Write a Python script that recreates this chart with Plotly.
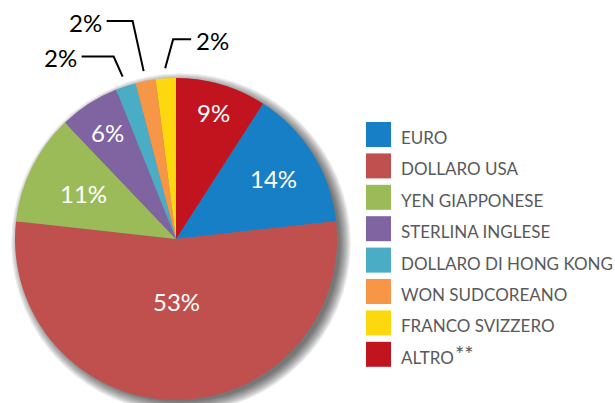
import math
import plotly.graph_objects as go

# ---------------------------------------------------------
# DATA
# ---------------------------------------------------------

labels = [
    "EURO",
    "DOLLARO USA",
    "YEN GIAPPONESE",
    "STERLINA INGLESE",
    "DOLLARO DI HONG KONG",
    "WON SUDCOREANO",
    "FRANCO SVIZZERO",
    "ALTRO",
]
values = [14, 53, 11, 6, 2, 2, 2, 9]
colors = ["#177fc6", "#c0504d", "#9bbb59", "#8064a2",
          "#4bacc6", "#f79646", "#fdd80e", "#c1141f"]

# ---------------------------------------------------------
# LAYOUT SETTINGS (pixels)
# ---------------------------------------------------------

W, H = 615, 403
cx, cy, R = 176, 239, 161
FONT = "Lato"

# where each percentage sits: fraction of the radius for inside labels,
# or (elbow dx, elbow dy, horizontal run) for the leader-line labels
inside_r = {
    "EURO": 0.71,
    "DOLLARO USA": 0.39,
    "YEN GIAPPONESE": 0.64,
    "STERLINA INGLESE": 0.79,
    "ALTRO": 0.82,
}
leaders = {
    "DOLLARO DI HONG KONG": (-9, -20, -32),
    "WON SUDCOREANO": (-11, -50, -26),
    "FRANCO SVIZZERO": (8, -29, 18),
}


def paper(x, y):
    return x / W, 1 - y / H


total = sum(values)
rotation = values[-1] / total * 360  # ALTRO ends at 12 o'clock, EURO starts after it

fig = go.Figure()

# soft drop shadow behind the pie, mostly to the right
shapes = []
for k in range(10):
    r = R - 2 + k * 1.2
    x0, y1 = paper(cx + 5 - r, cy + 4 - r)
    x1, y0 = paper(cx + 5 + r, cy + 4 + r)
    shapes.append(dict(type="circle", xref="paper", yref="paper",
                       x0=x0, x1=x1, y0=y0, y1=y1, layer="below",
                       fillcolor="rgba(0,0,0,0.07)", line_width=0))

fig.add_trace(go.Pie(
    labels=labels,
    values=values,
    sort=False,
    direction="clockwise",
    rotation=rotation,
    marker=dict(colors=colors, line=dict(width=0)),
    textinfo="none",
    domain=dict(x=[(cx - R) / W, (cx + R) / W],
                y=[1 - (cy + R) / H, 1 - (cy - R) / H]),
    showlegend=False,
    hoverinfo="label+value",
))

# ---------------------------------------------------------
# PERCENT LABELS
# ---------------------------------------------------------

annotations = []
cum = 0
for lab, v in zip(labels, values):
    theta = math.radians(rotation + (cum + v / 2) / total * 360)
    cum += v
    if lab in inside_r:
        rr = R * inside_r[lab]
        tx, ty = paper(cx + rr * math.sin(theta), cy - rr * math.cos(theta))
        annotations.append(dict(
            x=tx, y=ty, xref="paper", yref="paper",
            text="%d%%" % v, showarrow=False,
            xanchor="center", yanchor="middle",
            font=dict(family=FONT, size=24, color="white"),
        ))
    else:
        ex = cx + (R + 10) * math.sin(theta)
        ey = cy - (R + 10) * math.cos(theta)
        dx, dy, run = leaders[lab]
        bx, by = ex + dx, ey + dy
        hx = bx + run
        p = [paper(ex, ey), paper(bx, by), paper(hx, by)]
        path = "M{},{} L{},{} L{},{}".format(p[0][0], p[0][1], p[1][0], p[1][1],
                                             p[2][0], p[2][1])
        shapes.append(dict(type="path", xref="paper", yref="paper", path=path,
                           line=dict(color="black", width=2)))
        tx, ty = paper(hx + (3 if run > 0 else -3), by + 1)
        annotations.append(dict(
            x=tx, y=ty, xref="paper", yref="paper",
            text="%d%%" % v, showarrow=False,
            xanchor="left" if run > 0 else "right", yanchor="middle",
            font=dict(family=FONT, size=24, color="black"),
        ))

# ---------------------------------------------------------
# LEGEND
# ---------------------------------------------------------

lx, ly, sw, pitch = 366, 122, 25, 31.4
legend_color = "#58595b"
for i, (lab, col) in enumerate(zip(labels, colors)):
    top = ly + i * pitch
    x0, y1 = paper(lx, top)
    x1, y0 = paper(lx + sw, top + sw)
    shapes.append(dict(type="rect", xref="paper", yref="paper",
                       x0=x0, x1=x1, y0=y0, y1=y1,
                       fillcolor=col, line_width=0))
    tx, ty = paper(lx + sw + 8, top + sw / 2 + 3)
    annotations.append(dict(
        x=tx, y=ty, xref="paper", yref="paper", text=lab,
        showarrow=False, xanchor="left", yanchor="middle",
        font=dict(family=FONT, size=17, color=legend_color),
    ))

# footnote marks after ALTRO
top = ly + labels.index("ALTRO") * pitch
tx, ty = paper(453, top + 12)
annotations.append(dict(
    x=tx, y=ty, xref="paper", yref="paper", text="**",
    showarrow=False, xanchor="left", yanchor="middle",
    font=dict(family=FONT, size=22, color=legend_color),
))

fig.update_layout(
    width=W,
    height=H,
    margin=dict(l=0, r=0, t=0, b=0),
    paper_bgcolor="white",
    plot_bgcolor="white",
    shapes=shapes,
    annotations=annotations,
)

fig.write_html("out.html", config={"displayModeBar": False},
               post_script="document.body.style.margin='0px';")
